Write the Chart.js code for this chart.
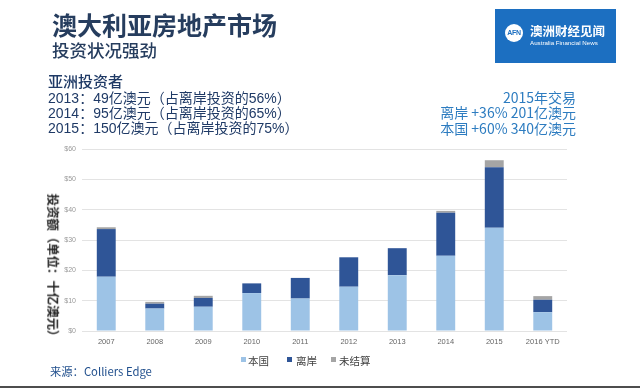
<!DOCTYPE html>
<html>
<head>
<meta charset="utf-8">
<script src="https://cdn.jsdelivr.net/npm/chart.js@4.4.1/dist/chart.umd.min.js"></script>
<style>
  html, body { margin:0; padding:0; background:#fff; }
  body { width:640px; height:388px; position:relative; overflow:hidden; font-family:"Noto Sans CJK SC","Noto Sans",sans-serif; }
  #wrap { position:absolute; left:0; top:0; width:640px; height:388px; }
  .t { position:absolute; white-space:nowrap; line-height:1; }
  .lg { position:absolute; top:355px; height:11px; font-size:10.5px; color:#404040; line-height:11px; white-space:nowrap; }
  .sq { position:absolute; width:5px; height:5px; top:357px; }
</style>
</head>
<body>
<div id="wrap"><canvas id="c" width="640" height="388"></canvas></div>

<div class="t" style="left:52px;top:12px;font-size:25px;font-weight:700;color:#263d5e;">澳大利亚房地产市场</div>
<div class="t" style="left:52px;top:41px;font-size:17.5px;font-weight:500;color:#263d5e;">投资状况强劲</div>

<div class="t" style="left:48px;top:73px;font-size:15px;font-weight:500;color:#1f3a66;">亚洲投资者</div>
<div id="leftLines"></div>
<div id="rightLines"></div>

<div style="position:absolute;left:495px;top:9px;width:121px;height:54px;background:#1c6fc1;"></div>
<div style="position:absolute;left:505px;top:24px;width:18px;height:18px;border-radius:50%;background:#fff;color:#1c6fc1;font:700 7px 'Liberation Sans',sans-serif;line-height:18px;text-align:center;letter-spacing:-0.3px;">AFN</div>
<div class="t" style="left:530px;top:25px;font-size:12.5px;font-weight:700;color:#fff;">澳洲财经见闻</div>
<div class="t" style="left:530px;top:39px;font:6.2px 'Liberation Sans',sans-serif;color:#fff;">Australia Financial News</div>

<div class="t" id="ytitle" style="left:53px;top:268px;font-size:12.4px;font-weight:700;color:#222;transform:translate(-50%,-50%) rotate(90deg);">投资额（单位：十亿澳元）</div>

<div id="legend"></div>

<div class="t" style="left:50px;top:366px;font-size:11.3px;color:#1f4e8c;">来源：Colliers Edge</div>
<div style="position:absolute;left:0;top:386px;width:640px;height:2px;background:#4d4d4d;"></div>

<script>
const categories = ['2007','2008','2009','2010','2011','2012','2013','2014','2015','2016 YTD'];
const domestic  = [17.9, 7.4, 8.0, 12.5, 10.7, 14.6, 18.4, 24.8, 34.0, 6.2];
const offshore  = [15.7, 1.6, 2.9, 3.2, 6.8, 9.7, 8.9, 14.2, 20.0, 4.1];
const unsettled = [0.6, 0.6, 0.7, 0, 0, 0, 0, 0.6, 2.3, 1.2];
const seriesNames = ['本国','离岸','未结算'];
const seriesColors = ['#9dc3e6','#2f5597','#a5a5a5'];
const yMax = 60;
const yStep = 10;
const leftLines = ['2013：49亿澳元（占离岸投资的56%）','2014：95亿澳元（占离岸投资的65%）','2015：150亿澳元（占离岸投资的75%）'];
const rightLines = ['2015年交易','离岸 +36% 201亿澳元','本国 +60% 340亿澳元'];

(function(){
  const L = document.getElementById('leftLines');
  leftLines.forEach((s,i)=>{
    const d=document.createElement('div'); d.className='t';
    d.style.cssText='left:48px;top:'+(90.5+i*15)+'px;font-size:14px;color:#1f3a66;font-family:"Liberation Sans","Noto Sans CJK SC",sans-serif;';
    d.textContent=s; L.appendChild(d);
  });
  const R = document.getElementById('rightLines');
  rightLines.forEach((s,i)=>{
    const d=document.createElement('div'); d.className='t';
    d.style.cssText='right:'+(640-576)+'px;top:'+(90+i*15.3)+'px;font-size:14px;color:#2d7cc0;';
    d.textContent=s; R.appendChild(d);
  });
  const G = document.getElementById('legend');
  const sqX=[241,287,331], txX=[248,296,339];
  seriesNames.forEach((n,i)=>{
    const s=document.createElement('div'); s.className='sq'; s.style.left=sqX[i]+'px'; s.style.background=seriesColors[i]; G.appendChild(s);
    const t=document.createElement('div'); t.className='lg'; t.style.left=txX[i]+'px'; t.textContent=n; G.appendChild(t);
  });
})();

const values = [domestic, offshore, unsettled];
new Chart(document.getElementById('c'), {
  type:'bar',
  data:{
    labels:categories,
    datasets: seriesNames.map((n,i)=>({
      label:n, data:values[i], backgroundColor:seriesColors[i], borderWidth:0,
      categoryPercentage:1, barPercentage:0.39
    }))
  },
  options:{
    responsive:false, animation:false, devicePixelRatio:1,
    layout:{ padding:{ left:0, top:149, right:73, bottom:37 } },
    plugins:{ legend:{display:false}, tooltip:{enabled:false} },
    scales:{
      x:{
        stacked:true,
        grid:{display:false, drawTicks:false},
        border:{display:false},
        ticks:{ padding:6, color:'#666', font:{size:7.5, family:'Liberation Sans'}, maxRotation:0, autoSkip:false },
        afterFit(s){ s.height = 20; }
      },
      y:{
        stacked:true, min:0, max:yMax,
        grid:{ color:'#e3e3e3', lineWidth:1, drawTicks:false },
        border:{display:false},
        ticks:{ stepSize:yStep, padding:6, color:'#999', font:{size:7, family:'Liberation Sans'}, callback:v=>'$'+v },
        afterFit(s){ s.width = 82; }
      }
    }
  }
});
</script>
</body>
</html>
